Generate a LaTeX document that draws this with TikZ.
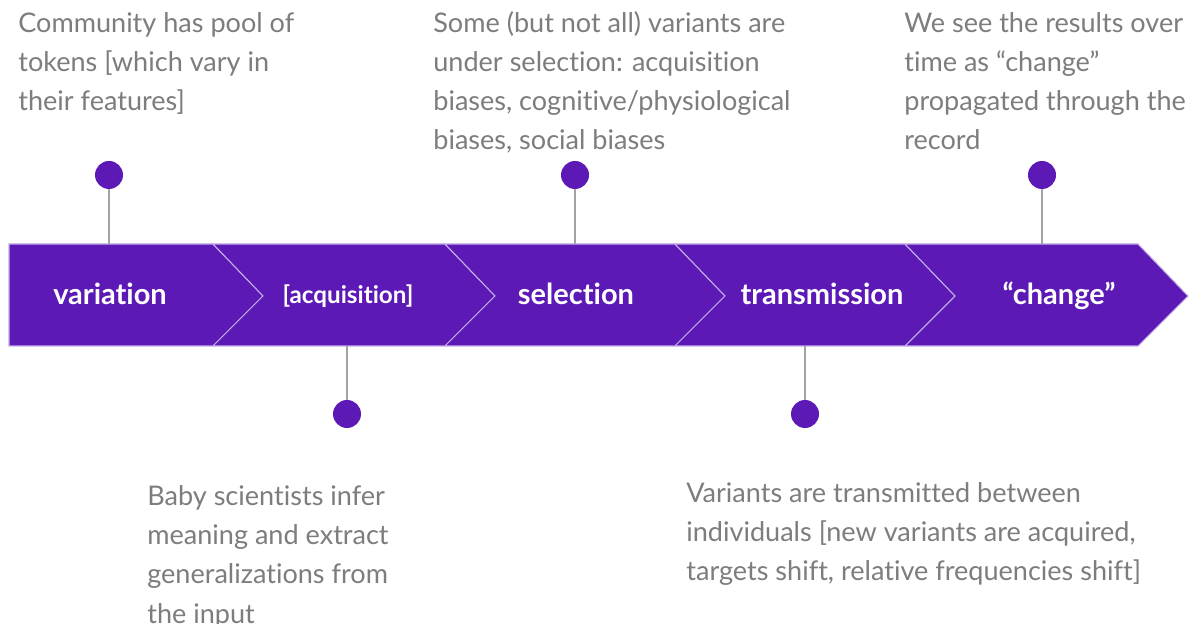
\documentclass[tikz,border=0pt]{standalone}
\usepackage{fontspec}
\setmainfont{Lato}[Ligatures={TeX,NoCommon}]
\usetikzlibrary{positioning}

\definecolor{stagepurple}{HTML}{5C19B5}
\definecolor{seamlilac}{HTML}{C2ADE8}
\definecolor{notegray}{HTML}{7D7D7D}
\definecolor{stemgray}{HTML}{A3A3A3}

\begin{document}
\begin{tikzpicture}[
  x=0.02cm, y=-0.02cm,
  stage/.style={font=\fontsize{16.5}{19}\selectfont\bfseries, text=white, inner sep=0pt, anchor=base},
  note/.style={font=\fontsize{15.4}{22.2}\selectfont, text=notegray, align=left,
    anchor=base west, inner sep=0pt},
  chevron/.style={fill=stagepurple, draw=seamlilac, line width=0.6pt},
  pin/.style={circle, fill=stagepurple, minimum size=0.56cm, inner sep=0pt},
  stem/.style={draw=stemgray, line width=1.1pt}
]
\clip (0,0) rectangle (1204,624);
\fill[white] (0,0) rectangle (1204,624);

% the band of five arrows
\path[chevron] (9,244) -- (213,244) -- (263,296) -- (213,346) -- (9,346) -- cycle;
\foreach \xl/\xr in {213/445, 445/675, 675/905, 905/1138}
  \path[chevron] (\xl,244) -- (\xr,244) -- (\xr+50,296) -- (\xr,346) -- (\xl,346) -- (\xl+50,296) -- cycle;

\node[stage] (var) at (110,305) {variation};
\node[stage, font=\fontsize{13.8}{16}\selectfont\bfseries] (acq) at (348,304) {[acquisition]};
\node[stage] (sel) at (576,305) {selection};
\node[stage] (trans) at (822,305) {transmission};
\node[stage] (chg) at (1059,305) {``change''};

% pins above and below the band
\node[pin] (varpin) at (109,175) {};
\node[pin] (acqpin) at (347,414) {};
\node[pin] (selpin) at (575,175) {};
\node[pin] (transpin) at (805,414) {};
\node[pin] (chgpin) at (1042,175) {};
\coordinate (vartop) at (109,244);
\coordinate (acqbot) at (347,346);
\coordinate (seltop) at (575,244);
\coordinate (transbot) at (805,346);
\coordinate (chgtop) at (1042,244);
\draw[stem] (varpin) -- (vartop);
\draw[stem] (acqpin) -- (acqbot);
\draw[stem] (selpin) -- (seltop);
\draw[stem] (transpin) -- (transbot);
\draw[stem] (chgpin) -- (chgtop);

% notes (placed at the baseline of their last line)
\node[note] (varnote) at (18,111) {Community has pool of\\tokens [which vary in\\their features]};
\node[note] (selnote) at (433,150) {Some (but not all) variants are\\under selection: acquisition\\biases, cognitive/physiological\\biases, social biases};
\node[note] (chgnote) at (904,150) {We see the results over\\time as ``change''\\propagated through the\\record};
\node[note] (acqnote) at (147,623) {Baby scientists infer\\meaning and extract\\generalizations from\\the input};
\node[note] (transnote) at (686,581) {Variants are transmitted between\\individuals [new variants are acquired,\\targets shift, relative frequencies shift]};
\end{tikzpicture}
\end{document}
